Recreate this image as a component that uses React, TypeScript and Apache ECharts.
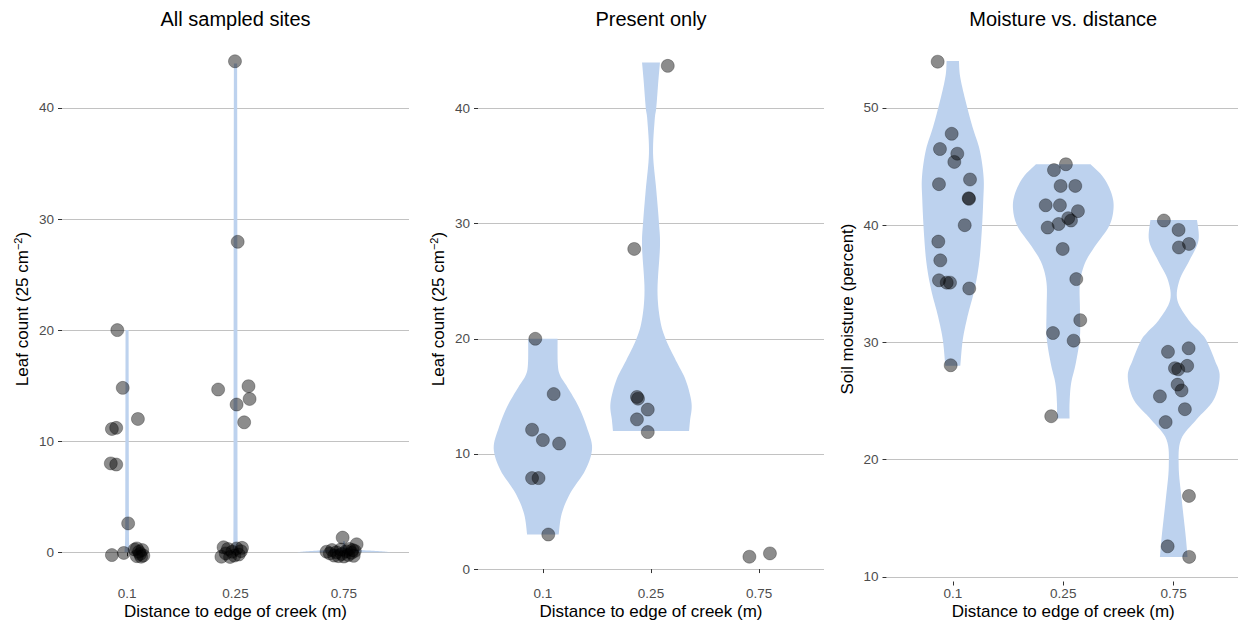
import React, { useEffect, useRef } from 'react';
import * as echarts from 'echarts';

// Distance-to-creek categories, shared by all three panels
const distanceLabels = ['0.1', '0.25', '0.75'];
const yTicksLeaf = [0, 10, 20, 30, 40];
const yTicksMoisture = [10, 20, 30, 40, 50];

// Jittered observations: [horizontal jitter (category units), value]
const allSitesNear = [
  [-0.09, 20.0], [-0.04, 14.8], [-0.14, 11.1], [-0.10, 11.2], [0.10, 12.0], [-0.15, 8.0], [-0.10, 7.9], [0.01, 2.6],
  [-0.14, -0.25], [-0.03, -0.06], [0.07, 0.25], [0.09, 0.35], [0.09, -0.35], [0.11, 0.05], [0.12, -0.15], [0.14, 0.2],
  [0.15, -0.3], [0.13, -0.4],
];
const allSitesMid = [
  [-0.005, 44.2], [0.02, 27.95], [-0.16, 14.65], [0.01, 13.3], [0.12, 14.95], [0.13, 13.8], [0.08, 11.7],
  [-0.11, 0.45], [-0.13, -0.4], [-0.09, -0.1], [-0.07, 0.3], [-0.05, -0.42], [-0.03, 0.05], [-0.01, -0.3],
  [0.01, 0.35], [0.03, -0.2], [0.05, 0.1], [0.06, 0.4],
];
const allSitesFar = [
  [-0.012, 1.32], [0.117, 0.72],
  [-0.16, 0.05], [-0.13, -0.1], [-0.11, 0.2], [-0.09, -0.3], [-0.07, 0.0], [-0.05, -0.35], [-0.03, 0.25],
  [-0.02, -0.15], [0.0, -0.38], [0.02, 0.1], [0.04, -0.25], [0.05, 0.3], [0.07, -0.05], [0.08, 0.2],
  [0.09, -0.32], [0.10, 0.12],
];

const presentNear = [
  [-0.07, 20.0], [0.10, 15.2], [-0.10, 12.1], [0.0, 11.2], [0.15, 10.9], [-0.10, 7.9], [-0.04, 7.9], [0.05, 3.0],
];
const presentMid = [
  [0.155, 43.7], [-0.155, 27.8], [-0.13, 14.95], [-0.12, 14.8], [-0.03, 13.85], [-0.13, 13.0], [-0.03, 11.9],
];
const presentFar = [
  [-0.09, 1.07], [0.10, 1.36],
];

const moistureNear = [
  [-0.137, 53.95], [-0.01, 47.8], [-0.116, 46.5], [0.041, 46.1], [0.014, 45.4], [-0.125, 43.5], [0.156, 43.9],
  [0.144, 42.3], [0.147, 42.25], [0.108, 40.0], [-0.131, 38.6], [-0.113, 37.0], [-0.125, 35.3], [-0.055, 35.1],
  [-0.025, 35.1], [0.149, 34.6], [-0.019, 28.05],
];
const moistureMid = [
  [0.024, 45.2], [-0.084, 44.7], [-0.024, 43.35], [0.109, 43.35], [-0.159, 41.7], [-0.03, 41.7], [0.133, 41.2],
  [0.045, 40.6], [0.07, 40.4], [-0.042, 40.1], [-0.141, 39.8], [-0.005, 37.97], [0.118, 35.4], [0.154, 31.9],
  [-0.093, 30.8], [0.094, 30.15], [-0.109, 23.7],
];
const moistureFar = [
  [-0.089, 40.4], [0.044, 39.6], [0.047, 38.1], [0.138, 38.4], [-0.052, 29.2], [0.135, 29.5], [0.122, 28.0],
  [0.011, 27.8], [0.041, 27.7], [0.035, 26.4], [0.071, 25.9], [-0.125, 25.4], [0.101, 24.3], [-0.073, 23.2],
  [0.138, 16.9], [-0.055, 12.6], [0.14, 11.7],
];

// Violin density profiles: [value, half width (category units)]
const allSitesNearViolin = [[0, 0.024], [0.6, 0.02], [2, 0.017], [8, 0.016], [14, 0.015], [20, 0.014]];
const allSitesMidViolin = [[0, 0.028], [0.6, 0.022], [2, 0.019], [10, 0.018], [28, 0.017], [44, 0.015]];
const allSitesFarViolin = [[0, 0.435], [0.08, 0.36], [0.16, 0.22], [0.25, 0.1], [0.35, 0.04], [0.5, 0.015], [1.0, 0.008]];

const presentNearViolin = [
  [3, 0.146], [4.8, 0.174], [6.6, 0.254], [8.6, 0.393], [10.5, 0.455], [12.35, 0.405], [14.1, 0.331],
  [15.8, 0.227], [16.8, 0.16], [17.8, 0.138], [20, 0.136],
];
const presentMidViolin = [
  [12, 0.352], [12.9, 0.361], [14.4, 0.375], [16.4, 0.321], [18.1, 0.231], [19.9, 0.139], [21.6, 0.085],
  [24.2, 0.06], [28, 0.083], [30, 0.074], [32.9, 0.049], [36.1, 0.019], [39, 0.034], [40.1, 0.049],
  [42.4, 0.068], [44, 0.083],
];

const moistureNearViolin = [
  [28, 0.068], [30.2, 0.09], [32.2, 0.133], [34.5, 0.196], [36.75, 0.238], [39.3, 0.261], [42.15, 0.276],
  [44.1, 0.279], [46.4, 0.244], [48.4, 0.178], [50.7, 0.113], [52.7, 0.066], [54, 0.056],
];
const moistureMidViolin = [
  [23.5, 0.057], [24.8, 0.057], [26.5, 0.071], [28.2, 0.113], [30.5, 0.151], [32.8, 0.151], [35.05, 0.151],
  [36.75, 0.196], [38.2, 0.287], [39.9, 0.414], [41.4, 0.455], [42.7, 0.437], [44.1, 0.362], [45.2, 0.247],
];
const moistureFarViolin = [
  [11.7, 0.125], [13.7, 0.106], [16.6, 0.072], [19.4, 0.045], [21.7, 0.065], [23.4, 0.204], [25.1, 0.362],
  [27.1, 0.416], [28.5, 0.371], [30.2, 0.294], [30.9, 0.235], [31.9, 0.136], [33.6, 0.033], [35.3, 0.052],
  [37.0, 0.143], [38.7, 0.224], [40.45, 0.211],
];

const FONT = '"Liberation Sans", Arial, Helvetica, sans-serif';
const VIOLIN_FILL = '#bdd2ee';
const GRID_COLOR = '#c2c2c2';

type Panel = {
  title: string;
  yName: string;
  yMin: number;
  yMax: number;
  yTicks: number[];
  groups: number[][][];
  violins: (number[][] | null)[];
  left: number;
  width: number;
  nameGap: number;
};

const panels: Panel[] = [
  {
    title: 'All sampled sites',
    yName: '{t|Leaf count (25 cm}{sup|−2}{t|)}',
    yMin: -2.63, yMax: 46.43, yTicks: yTicksLeaf,
    groups: [allSitesNear, allSitesMid, allSitesFar],
    violins: [allSitesNearViolin, allSitesMidViolin, allSitesFarViolin],
    left: 62, width: 347, nameGap: 30,
  },
  {
    title: 'Present only',
    yName: '{t|Leaf count (25 cm}{sup|−2}{t|)}',
    yMin: -1.08, yMax: 46.25, yTicks: yTicksLeaf,
    groups: [presentNear, presentMid, presentFar],
    violins: [presentNearViolin, presentMidViolin, null],
    left: 478, width: 346, nameGap: 30,
  },
  {
    title: 'Moisture vs. distance',
    yName: '{t|Soil moisture (percent)}',
    yMin: 9.6, yMax: 56.1, yTicks: yTicksMoisture,
    groups: [moistureNear, moistureMid, moistureFar],
    violins: [moistureNearViolin, moistureMidViolin, moistureFarViolin],
    left: 886.5, width: 353.5, nameGap: 29,
  },
];

const PLOT_TOP = 36.5;
const PLOT_HEIGHT = 545;

// Catmull-Rom pass over a profile so the violin outline is drawn as a smooth curve
function smoothProfile(pts: number[][], steps = 8): number[][] {
  const out: number[][] = [];
  const n = pts.length;
  for (let i = 0; i < n - 1; i++) {
    const p0 = pts[Math.max(i - 1, 0)];
    const p1 = pts[i];
    const p2 = pts[i + 1];
    const p3 = pts[Math.min(i + 2, n - 1)];
    for (let s = 0; s < steps; s++) {
      const t = s / steps;
      const t2 = t * t;
      const t3 = t2 * t;
      const f = (a: number, b: number, c: number, d: number) =>
        0.5 * (2 * b + (-a + c) * t + (2 * a - 5 * b + 4 * c - d) * t2 + (-a + 3 * b - 3 * c + d) * t3);
      out.push([f(p0[0], p1[0], p2[0], p3[0]), Math.max(0, f(p0[1], p1[1], p2[1], p3[1]))]);
    }
  }
  out.push(pts[n - 1]);
  return out;
}

function buildOption() {
  const grid: any[] = [];
  const xAxis: any[] = [];
  const yAxis: any[] = [];
  const series: any[] = [];
  const title: any[] = [];

  panels.forEach((p, pi) => {
    grid.push({
      left: p.left,
      top: PLOT_TOP,
      width: p.width,
      height: PLOT_HEIGHT,
      containLabel: false,
      outerBoundsMode: 'none',
    });
    title.push({
      text: p.title,
      left: p.left + p.width / 2,
      top: 9,
      textAlign: 'center',
      padding: 0,
      textStyle: { fontFamily: FONT, fontSize: 20, fontWeight: 'normal', color: '#000' },
    });
    xAxis.push({
      type: 'value',
      gridIndex: pi,
      min: 0.4,
      max: 3.6,
      name: 'Distance to edge of creek (m)',
      nameLocation: 'middle',
      nameGap: 21,
      nameMoveOverlap: false,
      nameTextStyle: { fontFamily: FONT, fontSize: 17, color: '#000', lineHeight: 17 },
      axisLine: { show: false },
      axisTick: { show: true, length: 4, customValues: [1, 2, 3], lineStyle: { color: '#333', width: 1 } },
      axisLabel: {
        customValues: [1, 2, 3],
        margin: 5,
        fontFamily: FONT,
        fontSize: 13.5,
        color: '#4d4d4d',
        formatter: (v: number) => distanceLabels[Math.round(v) - 1] ?? '',
      },
      splitLine: { show: false },
    });
    yAxis.push({
      type: 'value',
      gridIndex: pi,
      min: p.yMin,
      max: p.yMax,
      name: p.yName,
      nameLocation: 'middle',
      nameRotate: 90,
      nameGap: p.nameGap,
      nameMoveOverlap: false,
      nameTextStyle: {
        fontFamily: FONT,
        color: '#000',
        rich: {
          t: { fontFamily: FONT, fontSize: 17, color: '#000', lineHeight: 20 },
          sup: { fontFamily: FONT, fontSize: 11, color: '#000', lineHeight: 9, verticalAlign: 'top' },
        },
      },
      axisLine: { show: false },
      axisTick: { show: true, length: 4, customValues: p.yTicks, lineStyle: { color: '#333', width: 1 } },
      axisLabel: {
        customValues: p.yTicks,
        margin: 8,
        fontFamily: FONT,
        fontSize: 13.5,
        color: '#4d4d4d',
      },
      splitLine: { show: true, lineStyle: { color: GRID_COLOR, width: 1 } },
    });

    const violinItems: { pos: number; profile: number[][] }[] = [];
    p.violins.forEach((prof, gi) => {
      if (prof) violinItems.push({ pos: gi + 1, profile: smoothProfile(prof) });
    });
    series.push({
      type: 'custom',
      xAxisIndex: pi,
      yAxisIndex: pi,
      z: 1,
      silent: true,
      data: violinItems.map((v) => [v.pos, v.profile[0][0]]),
      renderItem: (params: any, api: any) => {
        const item = violinItems[params.dataIndex];
        const cx = item.pos;
        const leftSide = item.profile.map(([val, w]) => api.coord([cx - w, val]));
        const rightSide = item.profile.slice().reverse().map(([val, w]) => api.coord([cx + w, val]));
        return {
          type: 'polygon',
          shape: { points: leftSide.concat(rightSide) },
          style: { fill: VIOLIN_FILL, stroke: null },
        };
      },
    });

    const pts: number[][] = [];
    p.groups.forEach((g, gi) => g.forEach(([off, val]) => pts.push([gi + 1 + off, val])));
    series.push({
      type: 'scatter',
      xAxisIndex: pi,
      yAxisIndex: pi,
      z: 2,
      symbol: 'circle',
      symbolSize: 13,
      data: pts,
      itemStyle: { color: 'rgba(0,0,0,0.45)', borderColor: 'rgba(0,0,0,0.28)', borderWidth: 1, opacity: 1 },
      emphasis: { disabled: true },
    });
  });

  return {
    animation: false,
    backgroundColor: '#ffffff',
    textStyle: { fontFamily: FONT },
    title,
    grid,
    xAxis,
    yAxis,
    series,
  };
}

export default function App() {
  const ref = useRef<HTMLDivElement>(null);
  useEffect(() => {
    if (!ref.current) return;
    const chart = echarts.init(ref.current, undefined, { renderer: 'svg' });
    chart.setOption(buildOption() as any);
    return () => chart.dispose();
  }, []);
  return (
    <div
      ref={ref}
      style={{ position: 'fixed', left: 0, top: 0, width: 1238, height: 621, background: '#fff' }}
    />
  );
}
